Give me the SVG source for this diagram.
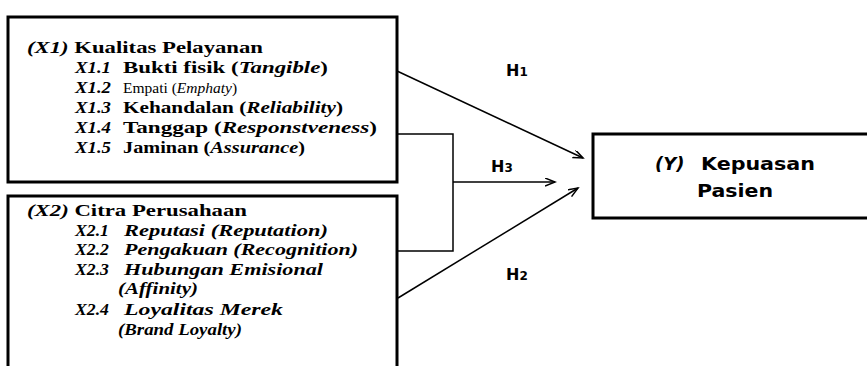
<svg xmlns="http://www.w3.org/2000/svg" width="867" height="366" viewBox="0 0 867 366">
<style>
.box{fill:#fff;stroke:#000;stroke-width:3}
.con{fill:none;stroke:#000;stroke-width:1.5}
.t{font-family:"Liberation Serif","Times New Roman",serif;font-size:16.5px;fill:#000}
.s{font-size:15.5px}
.b{font-weight:bold}
.i{font-style:italic}
.h{font-family:"DejaVu Sans","Verdana",sans-serif;font-weight:bold;font-size:16px;fill:#000}
.sub{font-size:12px}
.y{font-family:"DejaVu Sans","Verdana",sans-serif;font-weight:bold;font-size:18px;fill:#000}
</style>
<defs>
<marker id="arr" markerWidth="12" markerHeight="10" refX="10" refY="4" orient="auto" markerUnits="userSpaceOnUse">
<path d="M0,0 L10,4 L0,8" fill="none" stroke="#000" stroke-width="1.5"/>
</marker>
</defs>
<rect width="867" height="366" fill="#fff"/>
<g id="x1">
<rect class="box" x="8" y="17" width="389" height="165"/>
<text class="t b" x="27" y="53" textLength="236" lengthAdjust="spacingAndGlyphs"><tspan class="i">(X1)</tspan> Kualitas Pelayanan</text>
<text class="t b i" x="75" y="73" textLength="36" lengthAdjust="spacingAndGlyphs">X1.1</text>
<text class="t b" x="123" y="73" textLength="205" lengthAdjust="spacingAndGlyphs">Bukti fisik (<tspan class="i">Tangible</tspan>)</text>
<text class="t b i" x="75" y="93" textLength="36" lengthAdjust="spacingAndGlyphs">X1.2</text>
<text class="t s" x="123" y="93">Empati (<tspan class="i">Emphaty</tspan>)</text>
<text class="t b i" x="75" y="113" textLength="36" lengthAdjust="spacingAndGlyphs">X1.3</text>
<text class="t b" x="123" y="113" textLength="220" lengthAdjust="spacingAndGlyphs">Kehandalan (<tspan class="i">Reliability</tspan>)</text>
<text class="t b i" x="75" y="133" textLength="36" lengthAdjust="spacingAndGlyphs">X1.4</text>
<text class="t b" x="123" y="133" textLength="254" lengthAdjust="spacingAndGlyphs">Tanggap (<tspan class="i">Responstveness</tspan>)</text>
<text class="t b i" x="75" y="153" textLength="36" lengthAdjust="spacingAndGlyphs">X1.5</text>
<text class="t b" x="123" y="153" textLength="182" lengthAdjust="spacingAndGlyphs">Jaminan (<tspan class="i">Assurance</tspan>)</text>
</g>
<g id="x2">
<rect class="box" x="8" y="196" width="389" height="185"/>
<text class="t b" x="27" y="216" textLength="220" lengthAdjust="spacingAndGlyphs"><tspan class="i">(X2)</tspan> Citra Perusahaan</text>
<text class="t b i" x="75" y="236" textLength="34" lengthAdjust="spacingAndGlyphs">X2.1</text>
<text class="t b i" x="124" y="236" textLength="204" lengthAdjust="spacingAndGlyphs">Reputasi (Reputation)</text>
<text class="t b i" x="75" y="255" textLength="34" lengthAdjust="spacingAndGlyphs">X2.2</text>
<text class="t b i" x="124" y="255" textLength="234" lengthAdjust="spacingAndGlyphs">Pengakuan (Recognition)</text>
<text class="t b i" x="75" y="275" textLength="34" lengthAdjust="spacingAndGlyphs">X2.3</text>
<text class="t b i" x="124" y="275" textLength="199" lengthAdjust="spacingAndGlyphs">Hubungan Emisional</text>
<text class="t b i" x="118" y="294" textLength="80" lengthAdjust="spacingAndGlyphs">(Affinity)</text>
<text class="t b i" x="75" y="315" textLength="34" lengthAdjust="spacingAndGlyphs">X2.4</text>
<text class="t b i" x="124" y="315" textLength="159" lengthAdjust="spacingAndGlyphs">Loyalitas Merek</text>
<text class="t b i" x="118" y="335" textLength="124" lengthAdjust="spacingAndGlyphs">(Brand  Loyalty)</text>
</g>
<g id="y">
<rect class="box" x="593" y="134" width="300" height="84"/>
<text class="y" x="655" y="170"><tspan font-style="italic">(Y)</tspan></text>
<text class="y" x="701" y="170" textLength="114" lengthAdjust="spacingAndGlyphs">Kepuasan</text>
<text class="y" x="697" y="197" textLength="76" lengthAdjust="spacingAndGlyphs">Pasien</text>
</g>
<g id="connectors">
<line class="con" x1="397" y1="71" x2="583" y2="158" marker-end="url(#arr)"/>
<line class="con" x1="398" y1="298" x2="578" y2="188" marker-end="url(#arr)"/>
<polyline class="con" points="397,134 453,134 453,251 398,251"/>
<line class="con" x1="453" y1="182" x2="555" y2="182" marker-end="url(#arr)"/>
<text class="h" x="506" y="76">H<tspan class="sub">1</tspan></text>
<text class="h" x="491" y="172">H<tspan class="sub">3</tspan></text>
<text class="h" x="506" y="280">H<tspan class="sub">2</tspan></text>
</g>
</svg>
